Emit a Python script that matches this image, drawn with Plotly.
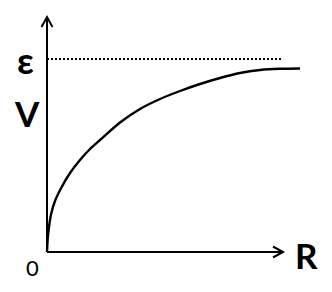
import plotly.graph_objects as go

# Terminal voltage V versus external resistance R (arbitrary units)
R = [0, 0.7, 2, 4, 8, 14.7, 23, 33, 43, 53, 73, 93, 113, 133, 153, 173, 193, 213, 233, 253]
V = [0, 13, 25, 37.5, 51, 65, 79, 92, 103, 112, 129.5, 143, 153, 161, 168, 174, 179, 182, 183.2, 183.5]
EMF = 193          # asymptote ε
R_MAX_DOTTED = 235  # extent of the ε guide line
AXIS_X_END = 236
AXIS_Y_END = 235

fig = go.Figure()
fig.add_trace(go.Scatter(x=R, y=V, mode="lines",
                         line=dict(color="black", width=2.4, shape="spline", smoothing=0.7),
                         hoverinfo="skip", showlegend=False))
fig.add_trace(go.Scatter(x=[0, R_MAX_DOTTED], y=[EMF, EMF], mode="lines",
                         line=dict(color="black", width=2, dash="2px,2px"),
                         hoverinfo="skip", showlegend=False))

shapes = [
    # y axis
    dict(type="line", x0=0, y0=0, x1=0, y1=AXIS_Y_END, line=dict(color="black", width=2)),
    dict(type="path", path=f"M -5.5,{AXIS_Y_END-10} L 0,{AXIS_Y_END} L 5.5,{AXIS_Y_END-10}",
         line=dict(color="black", width=2)),
    # x axis
    dict(type="line", x0=0, y0=0, x1=AXIS_X_END, y1=0, line=dict(color="black", width=2)),
    dict(type="path", path=f"M {AXIS_X_END-10},5.5 L {AXIS_X_END},0 L {AXIS_X_END-10},-5.5",
         line=dict(color="black", width=2)),
]
for s in shapes:
    s.update(xref="x", yref="y")

font_b = "Lato, 'Open Sans', sans-serif"
annotations = [
    dict(x=-22, y=EMF, text="<b>ε</b>", font=dict(family=font_b, size=37, color="black")),
    dict(x=-20, y=139, text="<b>V</b>", font=dict(family=font_b, size=35, color="black")),
    dict(x=259, y=-3, text="<b>R</b>", font=dict(family=font_b, size=35, color="black")),
    dict(x=-15, y=-15, text="0", font=dict(family="Lato, sans-serif", size=22, color="black")),
]
for a in annotations:
    a.update(xref="x", yref="y", showarrow=False, xanchor="center", yanchor="middle")

fig.update_layout(
    width=332, height=292, margin=dict(l=0, r=0, t=0, b=0),
    paper_bgcolor="white", plot_bgcolor="white",
    xaxis=dict(range=[-47, 285], visible=False, fixedrange=True),
    yaxis=dict(range=[-40, 252], visible=False, fixedrange=True),
    shapes=shapes, annotations=annotations,
)
fig.write_html("out.html")
